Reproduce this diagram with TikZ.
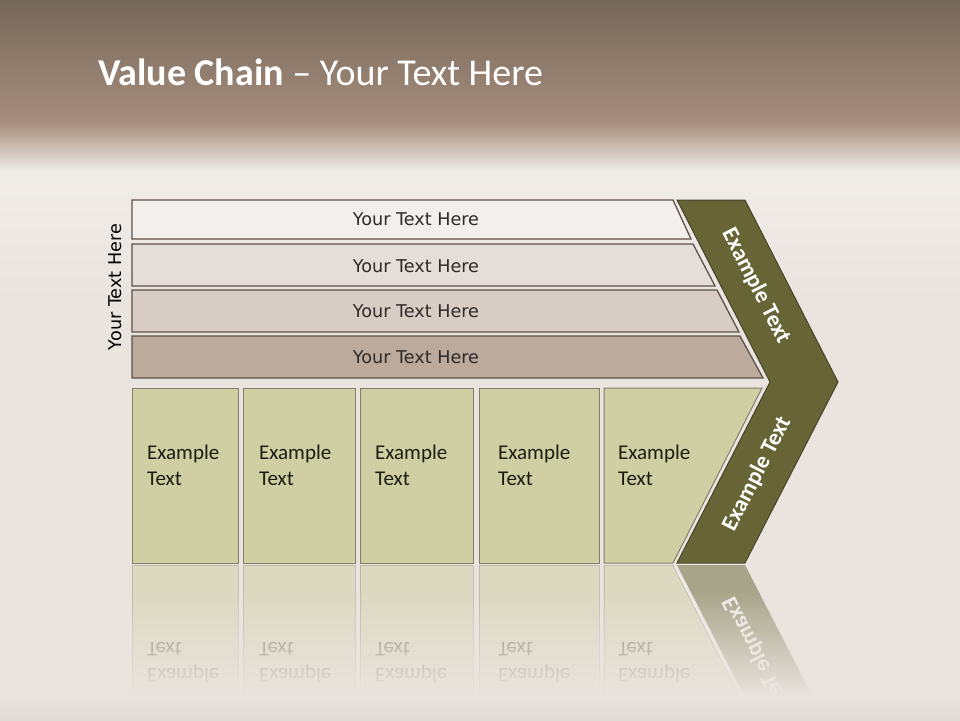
\documentclass[tikz,border=0pt]{standalone}
\usepackage{fontspec}
\setmainfont{Carlito}
\newfontfamily\rowfont{DejaVu Sans}
\usetikzlibrary{fadings}
\definecolor{bg}{HTML}{EAE4DF}
\definecolor{bgdark}{HTML}{DEDAD6}
\definecolor{bandtop}{HTML}{766859}
\definecolor{bandbot}{HTML}{A78E7E}
\definecolor{rowone}{HTML}{F2EFEC}
\definecolor{rowtwo}{HTML}{E5DDD8}
\definecolor{rowthree}{HTML}{D8CDC5}
\definecolor{rowfour}{HTML}{BCAA9D}
\definecolor{rowline}{HTML}{5E5148}
\definecolor{colfill}{HTML}{D0CFA4}
\definecolor{colline}{HTML}{827E6E}
\definecolor{chevfill}{HTML}{676535}
\definecolor{chevline}{HTML}{46442A}
\definecolor{rowtxt}{HTML}{2E2A28}
\definecolor{coltxt}{HTML}{1C1C10}
\tikzset{
  rowbox/.style={draw=rowline, line width=1.3pt, line join=miter},
  colbox/.style={draw=colline, line width=1pt, fill=colfill},
  chevbox/.style={draw=chevline, line width=1pt, fill=chevfill, line join=miter},
  rowtext/.style={font=\rowfont\fontsize{17.6}{21}\selectfont, text=rowtxt, inner sep=0pt},
  coltext/.style={font=\fontsize{21}{26}\selectfont, text=coltxt, align=left, anchor=north west, inner sep=0pt},
  chevtext/.style={font=\bfseries\fontsize{23}{27}\selectfont, text=white, inner sep=0pt},
}
\begin{document}
\begin{tikzpicture}[x=1pt,y=-1pt]
\useasboundingbox (0,0) rectangle (960,720);
% background
\fill[bg] (0,0) rectangle (960,720);
\shade[top color=bandtop, bottom color=bandbot] (0,0) rectangle (960,125);
\shade[top color=bandbot!95!bg, bottom color=bg!70!white] (0,124.5) rectangle (960,172);
\shade[top color=bg!70!white, bottom color=bg] (0,171.5) rectangle (960,300);

% title
\node[anchor=base west, text=white, font=\fontsize{38}{45}\selectfont, inner sep=0pt] (title) at (98,85) {\textbf{Value Chain} – Your Text Here};

% side label
\node[rowtext, text=black, rotate=90] (side) at (115,287) {Your Text Here};

% rows
\path[rowbox, fill=rowone]   (132,200) -- (673,200) -- (691,239) -- (132,239) -- cycle;
\path[rowbox, fill=rowtwo]   (132,244) -- (693,244) -- (715,286) -- (132,286) -- cycle;
\path[rowbox, fill=rowthree] (132,290) -- (717,290) -- (739,332) -- (132,332) -- cycle;
\path[rowbox, fill=rowfour]  (132,336) -- (740,336) -- (763,378) -- (132,378) -- cycle;
\node[rowtext] (r1) at (416,219.5) {Your Text Here};
\node[rowtext] (r2) at (416,266) {Your Text Here};
\node[rowtext] (r3) at (416,311.5) {Your Text Here};
\node[rowtext] (r4) at (416,357) {Your Text Here};

% columns
\path[colbox] (132,388) rectangle (238,563);
\path[colbox] (243,388) rectangle (355,563);
\path[colbox] (360,388) rectangle (473,563);
\path[colbox] (479,388) rectangle (599,563);
\path[colbox] (604,388) -- (762,388) -- (673,563) -- (604,563) -- cycle;
\node[coltext] (c1) at (147,445) {Example\\Text};
\node[coltext] (c2) at (259,445) {Example\\Text};
\node[coltext] (c3) at (375,445) {Example\\Text};
\node[coltext] (c4) at (498,445) {Example\\Text};
\node[coltext] (c5) at (618,445) {Example\\Text};

% chevron
\path[chevbox] (677,200) -- (745,200) -- (838,382) -- (745,563) -- (677,563) -- (770,382) -- cycle;
\node[chevtext, rotate=-63] (e1) at (756,286) {Example Text};
\node[chevtext, rotate=63] (e2) at (757,474) {Example Text};

% reflection
\begin{scope}
  \clip (0,565) rectangle (960,700);
  \begin{scope}[yshift=-1128pt, yscale=-1, transform shape]
    \begin{scope}[fill opacity=0.5, draw opacity=0.35, text opacity=0.45]
      \path[colbox] (132,388) rectangle (238,563);
      \path[colbox] (243,388) rectangle (355,563);
      \path[colbox] (360,388) rectangle (473,563);
      \path[colbox] (479,388) rectangle (599,563);
      \path[colbox] (604,388) -- (762,388) -- (673,563) -- (604,563) -- cycle;
      \node[coltext] (rc1) at (147,445) {Example\\Text};
      \node[coltext] (rc2) at (259,445) {Example\\Text};
      \node[coltext] (rc3) at (375,445) {Example\\Text};
      \node[coltext] (rc4) at (498,445) {Example\\Text};
      \node[coltext] (rc5) at (618,445) {Example\\Text};
      \path[chevbox, draw=none] (770,382) -- (838,382) -- (745,563) -- (677,563) -- cycle;
      \node[chevtext, rotate=63, text opacity=0.8] (re2) at (757,474) {Example Text};
    \end{scope}
  \end{scope}
  \draw[white, opacity=0.6, line width=1.2pt] (675,567) -- (740,694);
\end{scope}
\fill[bg, path fading=north] (0,590) rectangle (960,697);
\shade[top color=bg, bottom color=bgdark] (0,696) rectangle (960,720);
\end{tikzpicture}
\end{document}
